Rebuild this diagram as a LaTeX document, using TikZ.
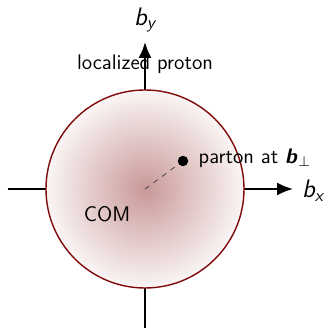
\documentclass[tikz,border=0pt]{standalone}
\usepackage{amsmath,amssymb,bm}
\usepackage{xcolor}
\usetikzlibrary{arrows.meta, positioning}
\definecolor{protonred}{RGB}{128,10,10}
\renewcommand{\familydefault}{\sfdefault}
\begin{document}
\begin{tikzpicture}[
  >={Latex[length=3.2mm,width=2.6mm]},
  every node/.style={font=\sffamily\large},
  axis/.style={->, line width=1.1pt, black},
  blob/.style={circle, draw=protonred, thick, inner color=protonred!42, outer color=protonred!4, minimum size=3.96cm},
  dot/.style={circle, fill=black, inner sep=0pt, minimum size=2.1mm}
]
\useasboundingbox (-2.9,-2.78) rectangle (3.64,3.78);
\coordinate (com) at (0,0);
\coordinate (xl) at (-2.74,0);
\coordinate (xr) at (2.96,0);
\coordinate (yb) at (0,-2.78);
\coordinate (yt) at (0,2.94);
\draw[axis] (xl) -- (xr);
\draw[axis] (yb) -- (yt);
\node[blob] (proton) at (com) {};
\node[font=\sffamily\itshape\Large] (bx) at (3.36,-0.03) {b\textsubscript{x}};
\node[font=\sffamily\itshape\Large] (by) at (0,3.38) {b\textsubscript{y}};
\node (label) at (0,2.5) {localized proton};
\node[dot] (parton) at (0.76,0.56) {};
\draw[dashed, line width=0.5pt, black!70] (com) -- (parton);
\node[anchor=west] (ptext) at (0.95,0.62) {parton at \textbf{\textit{b}}$_\perp$};
\node (comtext) at (-0.76,-0.5) {COM};
\end{tikzpicture}
\end{document}
